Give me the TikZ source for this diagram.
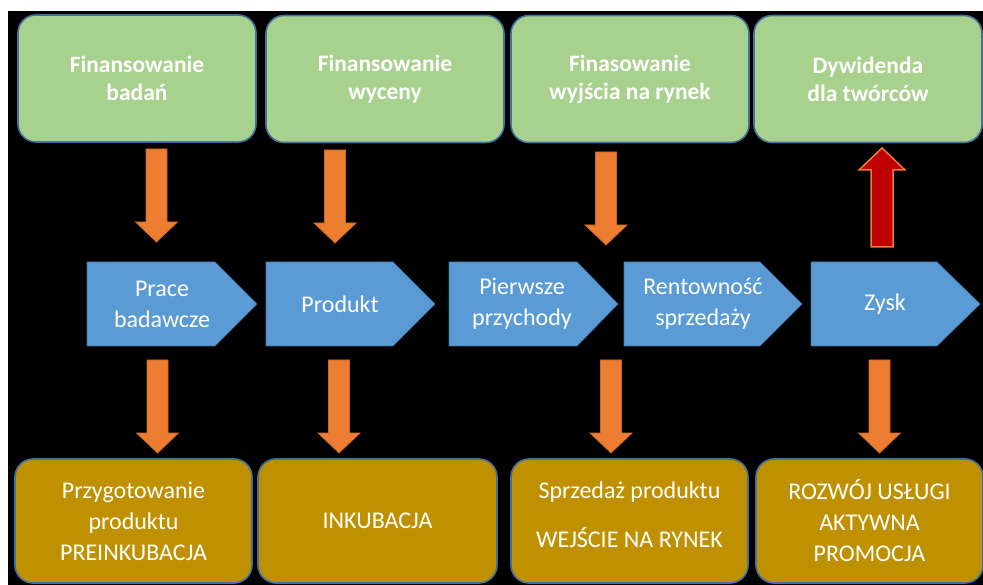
\documentclass[tikz,border=0pt]{standalone}
\usepackage{fontspec}
\setmainfont{Carlito}
\definecolor{gfill}{HTML}{A9D18E}
\definecolor{bord}{HTML}{41719C}
\definecolor{gold}{HTML}{BF9000}
\definecolor{chevblue}{HTML}{5B9BD5}
\definecolor{orng}{HTML}{ED7D31}
\definecolor{orngdark}{HTML}{C9692A}
\definecolor{darkred}{HTML}{C00000}
\tikzset{
  gbox/.style={draw=bord, line width=1.6pt, fill=gfill, rounded corners=18pt,
    text=white, align=center, font=\bfseries\fontsize{23.5}{28}\selectfont, inner sep=0pt},
  obox/.style={draw=bord, line width=1.6pt, fill=gold, rounded corners=18pt,
    text=white, align=center, font=\fontsize{24}{31}\selectfont, inner sep=0pt},
  otext/.style={text=white, align=center, font=\fontsize{24}{31}\selectfont, inner sep=0pt},
  chev/.style={draw=bord, line width=0.6pt, fill=chevblue},
  ctext/.style={text=white, align=center, font=\fontsize{24}{31}\selectfont, inner sep=0pt},
  orarrow/.style={draw=orngdark, line width=0.8pt, fill=orng, line join=miter},
  redarrow/.style={draw=orng, line width=1.5pt, fill=darkred, line join=miter}
}
\newcommand{\blockdown}[3]{%
  \filldraw[orarrow] (#1-10.5,#2) -- (#1+10.5,#2) -- (#1+10.5,#3-20) -- (#1+21,#3-20)
    -- (#1,#3) -- (#1-21,#3-20) -- (#1-10.5,#3-20) -- cycle;}
\begin{document}
\begin{tikzpicture}[x=1pt,y=-1pt]
\useasboundingbox (0,0) rectangle (983,585);
\fill[white] (0,0) rectangle (983,585);
\fill[black] (8,11) rectangle (983,585);

% top green boxes
\node[gbox, minimum width=238pt, minimum height=127pt] (g1) at (137,78.5) {Finansowanie\\badań};
\node[gbox, minimum width=238pt, minimum height=127pt] (g2) at (385,79) {Finansowanie\\wyceny};
\node[gbox, minimum width=238pt, minimum height=127pt] (g3) at (630,79) {Finasowanie\\wyjścia na rynek};
\node[gbox, minimum width=228pt, minimum height=127pt] (g4) at (868,79) {Dywidenda\\dla twórców};

% chevrons
\filldraw[chev] (87,262) -- (215,262) -- (257,304) -- (215,346) -- (87,346) -- cycle;
\node[ctext] (c1) at (162,304) {Prace\\badawcze};
\filldraw[chev] (266,262) -- (393,262) -- (435,304) -- (393,346) -- (266,346) -- cycle;
\node[ctext] (c2) at (340,304) {Produkt};
\filldraw[chev] (449,262) -- (577,262) -- (618,304) -- (577,346) -- (449,346) -- cycle;
\node[ctext] (c3) at (522,304) {Pierwsze\\przychody};
\filldraw[chev] (624,262) -- (760,262) -- (802,304) -- (760,346) -- (624,346) -- cycle;
\node[ctext] (c4) at (703,304) {Rentowność\\sprzedaży};
\filldraw[chev] (811,262) -- (937,262) -- (980,304) -- (937,346) -- (811,346) -- cycle;
\node[ctext] (c5) at (885,304) {Zysk};

% bottom gold boxes
\node[obox, minimum width=237pt, minimum height=124pt] (o1) at (133.5,521) {Przygotowanie\\produktu\\PREINKUBACJA};
\node[obox, minimum width=239pt, minimum height=124pt] (o2) at (377.5,521) {INKUBACJA};
\node[obox, minimum width=237pt, minimum height=124pt] (o3) at (629.5,521) {};
\node[otext] (o3t) at (629.5,514.5) {Sprzedaż produktu\\[18pt]WEJŚCIE NA RYNEK};
\node[obox, minimum width=227pt, minimum height=124pt] (o4) at (869.5,521) {ROZWÓJ USŁUGI\\AKTYWNA\\PROMOCJA};

% orange block arrows (top row)
\blockdown{156.5}{149}{242}
\blockdown{335}{150}{243}
\blockdown{606}{152}{245}
% orange block arrows (bottom row)
\blockdown{157.5}{360}{453}
\blockdown{339}{360}{453}
\blockdown{611}{360}{453}
\blockdown{879.5}{360}{453}

% red up arrow
\filldraw[redarrow] (871,247) -- (893,247) -- (893,170) -- (905,170) -- (882,148)
  -- (859,170) -- (871,170) -- cycle;
\end{tikzpicture}
\end{document}
